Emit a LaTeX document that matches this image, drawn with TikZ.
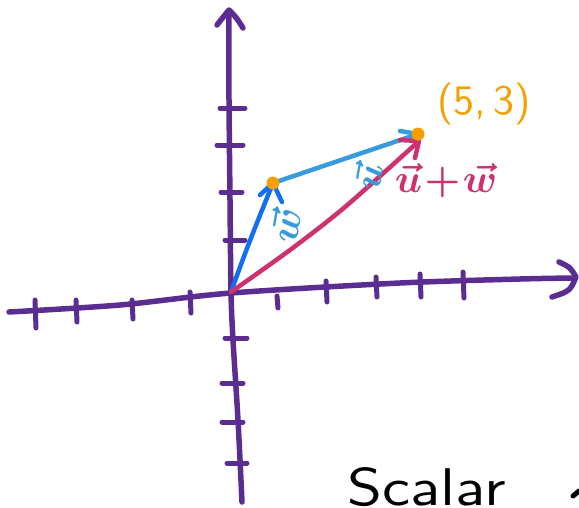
\documentclass[tikz,border=0pt]{standalone}
\usepackage{graphicx}
\definecolor{axispurple}{RGB}{92,45,145}
\definecolor{wblue}{RGB}{20,110,240}
\definecolor{ublue}{RGB}{55,155,220}
\definecolor{sumred}{RGB}{205,50,110}
\definecolor{dotorange}{RGB}{245,160,0}
\begin{document}
\begin{tikzpicture}[x=1pt,y=-1pt, line cap=round, line join=round,
  axis/.style={axispurple, line width=5.5pt},
  tickmark/.style={axispurple, line width=5pt},
  vecline/.style={line width=4.5pt},
  lbl/.style={inner sep=0pt}]
\useasboundingbox (0,0) rectangle (579,507);
\coordinate (O) at (231,292);
\coordinate (P) at (273,183);
\coordinate (Q) at (418,134);
% horizontal axis
\draw[axis] plot[smooth] coordinates {(9,312) (120,305) (231,293) (400,283) (520,279) (574,278)};
\draw[axis] (559,262) .. controls (570,267) .. (576,277) .. controls (570,291) .. (552,297);
% vertical axis
\draw[axis] plot[smooth] coordinates {(242,502) (238,420) (233,340) (231,292) (230,200) (229,100) (229,12)};
\draw[axis] (217,25) .. controls (224,16) .. (229,10) .. controls (236,17) .. (243,28);
% ticks vertical
\foreach \a/\b/\c in {220/108/245, 217/145/243, 221/192/242, 225/240/245, 225/338/247, 222/383/243, 222/422/243, 227/463/247}
  \draw[tickmark] (\a,\b) -- (\c,\b);
% ticks horizontal
\foreach \a/\b/\c in {35/300/328, 76/300/322, 132/300/319, 190/292/313, 277/296/308, 326/281/302, 376/277/297, 420/274/297, 463/272/298}
  \draw[tickmark] (\a,\b) -- (\a+1,\c);
% vector w
\draw[vecline, wblue] (O) .. controls (248,245) .. (P);
\draw[vecline, wblue] (260,195) -- (P) -- (282,202);
% vector u
\draw[vecline, ublue] (P) -- (Q);
\draw[vecline, ublue] (400,131) -- (Q);
% vector u+w
\draw[vecline, sumred] plot[smooth] coordinates {(O) (290,250) (345,207) (419,141)};
\draw[vecline, sumred] (400,140) -- (419,141) -- (415,158);
% dots
\fill[dotorange] (P) circle (6.5);
\fill[dotorange] (Q) circle (6.5);
% labels
\node[lbl, dotorange, font=\sffamily] (pt) at (484,104) {\scalebox{4.2}{(5,\,3)}};
\node[lbl, ublue, rotate=80] (wl) at (285,225) {\scalebox{4}{\boldmath$\vec{w}$}};
\node[lbl, ublue, rotate=80] (ul) at (368,176) {\scalebox{3.8}{\boldmath$\vec{u}$}};
\node[lbl, sumred] (sl) at (446,181) {\scalebox{4}{\boldmath$\vec{u}\mkern-3mu+\mkern-3mu\vec{w}$}};
\node[lbl, anchor=base west, font=\sffamily] (scalar) at (347,505) {\scalebox{6.3}[5.3]{Scalar}};
\draw[line width=5pt] (573,496) -- (579,491);
\end{tikzpicture}
\end{document}
